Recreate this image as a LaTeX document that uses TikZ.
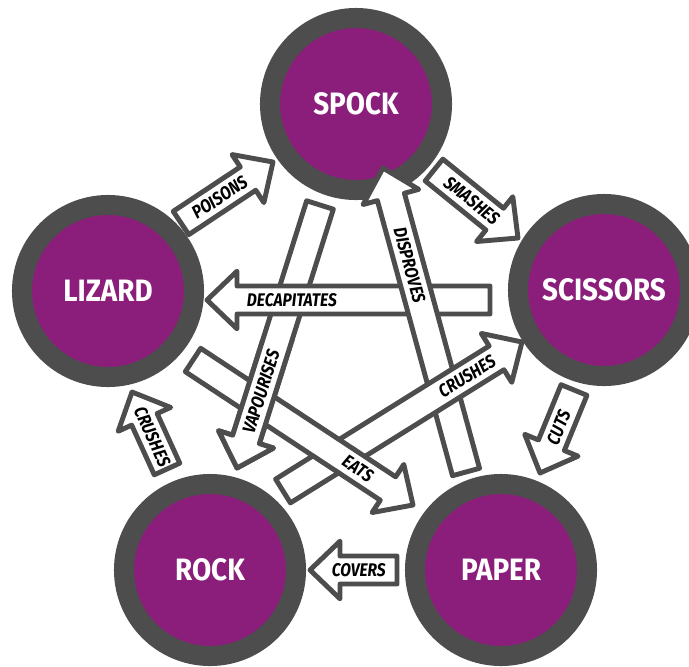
\documentclass[tikz,border=0pt]{standalone}
\usepackage{fontspec}
\setmainfont{Fira Sans}
\newfontfamily\planetfont[FakeStretch=0.9]{Fira Sans}
\newfontfamily\labelfont[FakeStretch=0.85]{Fira Sans}
\usetikzlibrary{calc}

\definecolor{ringgray}{RGB}{77,77,77}
\definecolor{planet}{RGB}{139,30,122}

\newcommand{\shaftw}{0.35cm}
\newcommand{\headw}{0.72cm}
\newcommand{\headl}{0.75cm}
% block arrow from #2 to #3, label #4 at pos #1
\newcommand{\blockarrow}[4][0.5]{%
  \draw[arrowbox] ($(#2)!\shaftw!90:(#3)$)
    -- ($(#3)!\headl!(#2)!\shaftw!90:(#3)$)
    -- ($(#3)!\headl!(#2)!\headw!90:(#3)$)
    -- (#3)
    -- ($(#3)!\headl!(#2)!\headw!-90:(#3)$)
    -- ($(#3)!\headl!(#2)!\shaftw!-90:(#3)$)
    -- ($(#2)!\shaftw!-90:(#3)$) -- cycle;
  \path (#2) -- (#3) node[pos=#1, sloped, arrowlabel] {#4};}

\begin{document}
\begin{tikzpicture}[x=0.025cm, y=-0.025cm,
  planet/.style={circle, fill=planet, draw=ringgray, line width=0.5cm, minimum size=4.3cm,
    text=white, font=\planetfont\bfseries\fontsize{22}{26}\selectfont},
  arrowbox/.style={draw=ringgray, fill=white, line width=3.5pt, line join=round},
  arrowlabel/.style={font=\labelfont\bfseries\itshape\fontsize{13}{15}\selectfont, inner sep=0pt}]
  \useasboundingbox (0,0) rectangle (689,666);

  % the five planets
  \node[planet] (spock) at (356,104) {SPOCK};
  \node[planet] (scissors) at (604,290) {SCISSORS};
  \node[planet] (lizard) at (108,291) {LIZARD};
  \node[planet] (rock) at (210,570) {ROCK};
  \node[planet] (paper) at (501,570) {PAPER};

  % arrow ends
  \coordinate (poisons-a) at (181,223);   \coordinate (poisons-b) at (273,162);
  \coordinate (smashes-a) at (434,170);   \coordinate (smashes-b) at (518,238);
  \coordinate (cuts-a) at (574,390);      \coordinate (cuts-b) at (540,473);
  \coordinate (covers-a) at (397,570);    \coordinate (covers-b) at (310,570);
  \coordinate (crushlz-a) at (167,469);   \coordinate (crushlz-b) at (132,392);
  \coordinate (vapour-a) at (320,205);    \coordinate (vapour-b) at (237,468);
  \coordinate (eats-a) at (193,360);      \coordinate (eats-b) at (413,505);
  \coordinate (decap-a) at (490,300);     \coordinate (decap-b) at (207,300);
  \coordinate (disprove-a) at (466,472);  \coordinate (disprove-b) at (383,168);
  \coordinate (crushsc-a) at (283,491);   \coordinate (crushsc-b) at (522,342);

  % outer ring
  \blockarrow[0.42]{poisons-a}{poisons-b}{POISONS}
  \blockarrow[0.45]{smashes-a}{smashes-b}{SMASHES}
  \blockarrow[0.45]{cuts-a}{cuts-b}{CUTS}
  \blockarrow[0.44]{covers-a}{covers-b}{COVERS}
  \blockarrow[0.42]{crushlz-a}{crushlz-b}{CRUSHES}

  % the star, woven
  \blockarrow{vapour-a}{vapour-b}{}
  \blockarrow[0.70]{decap-a}{decap-b}{DECAPITATES}
  \blockarrow[0.68]{disprove-a}{disprove-b}{DISPROVES}
  \blockarrow[0.77]{crushsc-a}{crushsc-b}{CRUSHES}
  \blockarrow[0.75]{eats-a}{eats-b}{EATS}
  \begin{scope}
    \clip (200,340) rectangle (330,480);
    \blockarrow[0.71]{vapour-a}{vapour-b}{VAPOURISES}
  \end{scope}
\end{tikzpicture}
\end{document}
